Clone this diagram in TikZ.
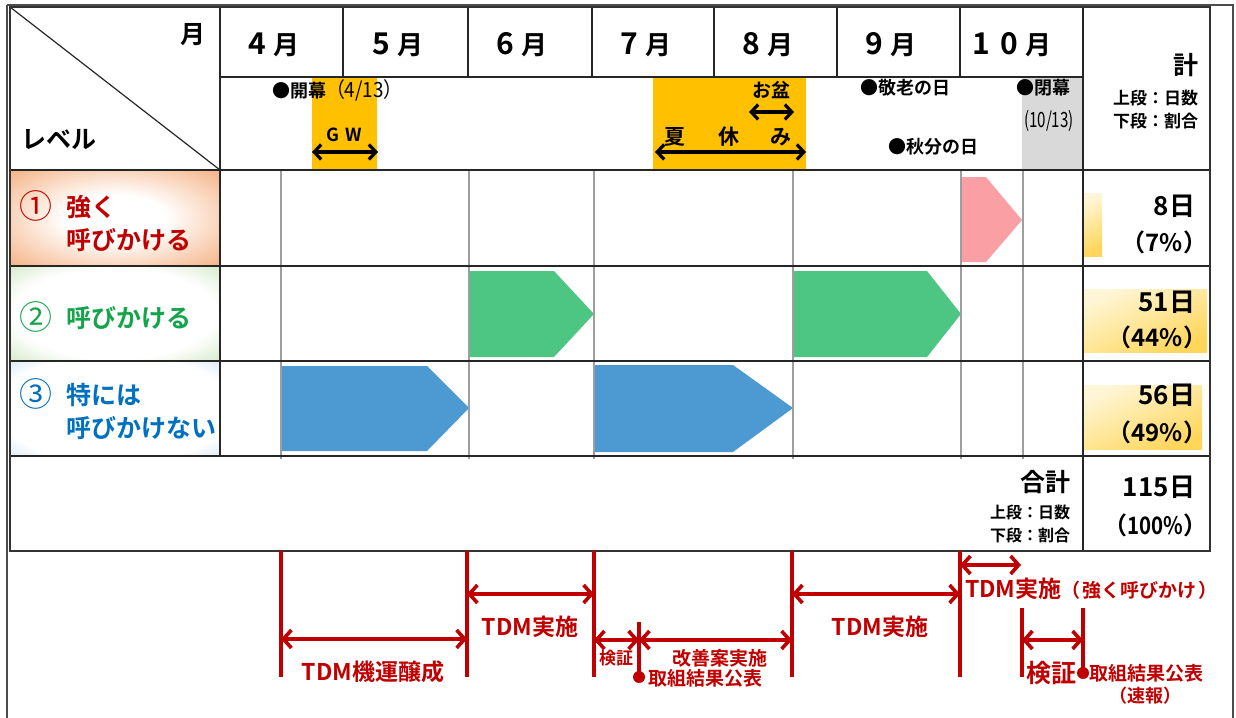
\documentclass[tikz,border=0pt]{standalone}
\usepackage{fontspec}
\setmainfont{Noto Sans CJK JP}[BoldFont={Noto Sans CJK JP Bold}]
\usetikzlibrary{arrows.meta}
\newcommand\myfs[1]{\fontsize{#1}{#1}\selectfont}
\definecolor{tdmred}{RGB}{192,0,0}
\definecolor{txtgreen}{RGB}{20,165,75}
\definecolor{txtblue}{RGB}{0,112,192}
\definecolor{gwfill}{RGB}{255,192,0}
\definecolor{closefill}{RGB}{217,217,217}
\definecolor{barpink}{RGB}{250,160,165}
\definecolor{bargreen}{RGB}{78,198,131}
\definecolor{barblue}{RGB}{77,153,210}
\definecolor{edgeO}{RGB}{244,170,120}
\definecolor{edgeG}{RGB}{165,208,140}
\definecolor{edgeB}{RGB}{150,192,232}
\definecolor{yelA}{RGB}{255,214,90}
\definecolor{yelB}{RGB}{255,246,215}
\pgfdeclareradialshading{lvlO}{\pgfpoint{0bp}{0bp}}{color(0bp)=(white); color(12bp)=(white); color(38bp)=(edgeO); color(72bp)=(edgeO)}
\pgfdeclareradialshading{lvlG}{\pgfpoint{0bp}{0bp}}{color(0bp)=(white); color(24bp)=(white); color(50bp)=(edgeG); color(72bp)=(edgeG)}
\pgfdeclareradialshading{lvlB}{\pgfpoint{0bp}{0bp}}{color(0bp)=(white); color(28bp)=(white); color(52bp)=(edgeB); color(72bp)=(edgeB)}
\begin{document}
\begin{tikzpicture}[x=1pt,y=-1pt,
  every node/.style={inner sep=0pt,outer sep=0pt,font=\bfseries},
  tblline/.style={draw=black!85,line width=1.2pt},
  thinline/.style={draw=black!38,line width=1.3pt},
  harrow/.style={draw=black,line width=3.6pt,{Straight Barb[length=7pt,width=15pt,line width=3.2pt]}-{Straight Barb[length=7pt,width=15pt,line width=3.2pt]}},
  rarrow/.style={draw=tdmred,line width=4.4pt,{Straight Barb[length=8pt,width=18pt,line width=3.6pt]}-{Straight Barb[length=8pt,width=18pt,line width=3.6pt]}},
  rtick/.style={draw=tdmred,line width=3.2pt},
  rdot/.style={fill=tdmred},
  rlab/.style={text=tdmred},
  yel/.style={top color=yelB,bottom color=yelA,shading angle=25},
]
\useasboundingbox (0,0) rectangle (1236,717);
% header backgrounds
\fill[gwfill] (312,77) rectangle (377,170);
\fill[gwfill] (653,77) rectangle (806,170);
\fill[closefill] (1022,77) rectangle (1083,170);
% level cell shading
\shade[shading=lvlO] (10,170) rectangle (220,266);
\shade[shading=lvlG] (10,266) rectangle (220,361);
\shade[shading=lvlB] (10,361) rectangle (220,456);
% total column highlights
\shade[yel] (1084,193) rectangle (1102,256);
\shade[yel] (1084,289) rectangle (1207,352);
\shade[yel] (1084,385) rectangle (1202,449);
% bars
\fill[barpink] (961,177) -- (986,177) -- (1022,220) -- (986,262) -- (961,262) -- cycle;
\fill[bargreen] (469,271) -- (554,271) -- (594,314) -- (554,357) -- (469,357) -- cycle;
\fill[bargreen] (794,271) -- (927,271) -- (961,314) -- (927,357) -- (794,357) -- cycle;
\fill[barblue] (281,366) -- (427,366) -- (469,408) -- (427,451) -- (281,451) -- cycle;
\fill[barblue] (594,365) -- (733,365) -- (793,408) -- (733,452) -- (594,452) -- cycle;
% thin grid
\foreach \gx in {281,469,594,793,961,1023} \draw[thinline] (\gx,170) -- (\gx,459);
% table lines
\draw[tblline] (10,7) -- (220,170);
\draw[tblline] (220,77) -- (1083,77);
\foreach \gy in {170,266,361,456} \draw[tblline] (10,\gy) -- (1210,\gy);
\draw[tblline] (220,7) -- (220,456);
\foreach \gx in {343,468,592,714,837,960} \draw[tblline] (\gx,7) -- (\gx,77);
\draw[tblline] (1083,7) -- (1083,551);
\draw[draw=black!80,line width=1.6pt] (10,7) rectangle (1210,551);
\draw[draw=black!70,line width=1.2pt] (7,5) -- (7,720);
\draw[draw=black!70,line width=1.2pt] (7,5) -- (1233,5) -- (1233,720);
% header texts
\node (hmon) at (193,35) {\myfs{25}月};
\node[anchor=west] (hlvl) at (21,140) {\myfs{25}レベル};
\node (m4) at (274,45) {\myfs{30}4\hspace{8pt}\myfs{26}月};
\node (m5) at (398,45) {\myfs{30}5\hspace{8pt}\myfs{26}月};
\node (m6) at (522,45) {\myfs{30}6\hspace{8pt}\myfs{26}月};
\node (m7) at (646,45) {\myfs{30}7\hspace{8pt}\myfs{26}月};
\node (m8) at (768,45) {\myfs{30}8\hspace{8pt}\myfs{26}月};
\node (m9) at (891,45) {\myfs{30}9\hspace{8pt}\myfs{26}月};
\node (m10) at (1012,45) {\myfs{30}1\hspace{10pt}0\hspace{8pt}\myfs{26}月};
\node[anchor=west] (open) at (272,90) {\myfs{18}●開幕\myfs{21}\mdseries\scalebox{0.9}[1]{（4/13）}};
\node (gw) at (344,135) {\myfs{18}G\hspace{6pt}W};
\coordinate (gwl) at (312,152); \coordinate (gwr) at (378,152);
\draw[harrow] (gwl) -- (gwr);
\node (obon) at (771,90) {\myfs{19}お盆};
\coordinate (obl) at (749,112); \coordinate (obr) at (794,112);
\draw[harrow] (obl) -- (obr);
\node (natsu) at (675,137) {\myfs{21}夏};
\node (yasu) at (729,137) {\myfs{21}休};
\node (mi) at (781,137) {\myfs{21}み};
\coordinate (sml) at (655,152); \coordinate (smr) at (806,152);
\draw[harrow] (sml) -- (smr);
\node[anchor=west] (keiro) at (860,88) {\myfs{18}●敬老の日};
\node[anchor=west] (shubun) at (888,147) {\myfs{18}●秋分の日};
\node[anchor=west] (close) at (1016,88) {\myfs{18}●閉幕};
\node (closed) at (1049,121) {\myfs{21}\mdseries\scalebox{0.72}[1]{(10/13)}};
\node[anchor=east] (kei) at (1198,65) {\myfs{25}計};
\node[anchor=east] (hj1) at (1198,98) {\myfs{17}上段：日数};
\node[anchor=east] (hj2) at (1198,121) {\myfs{17}下段：割合};
% level labels
\node[text=tdmred] (l1n) at (36,206) {\myfs{33}\mdseries ①};
\node[anchor=west,text=tdmred] (l1a) at (66,207) {\myfs{25}強く};
\node[anchor=west,text=tdmred] (l1b) at (66,240) {\myfs{25}呼びかける};
\node[text=txtgreen] (l2n) at (36,317) {\myfs{33}\mdseries ②};
\node[anchor=west,text=txtgreen] (l2a) at (66,318) {\myfs{25}呼びかける};
\node[text=txtblue] (l3n) at (36,394) {\myfs{33}\mdseries ③};
\node[anchor=west,text=txtblue] (l3a) at (66,395) {\myfs{25}特には};
\node[anchor=west,text=txtblue] (l3b) at (66,428) {\myfs{25}呼びかけない};
% totals
\node[anchor=east] (t1a) at (1195,206) {\myfs{26}8日};
\node[anchor=east] (t1b) at (1207,242) {\myfs{24}（7\%）};
\node[anchor=east] (t2a) at (1195,302) {\myfs{26}51日};
\node[anchor=east] (t2b) at (1207,337) {\myfs{24}（44\%）};
\node[anchor=east] (t3a) at (1195,395) {\myfs{26}56日};
\node[anchor=east] (t3b) at (1207,432) {\myfs{24}（49\%）};
\node[anchor=east] (t4a) at (1195,487) {\myfs{26}115日};
\node[anchor=east] (t4b) at (1207,525) {\myfs{24}（\scalebox{0.85}[1]{100\%}）};
\node[anchor=east] (gokei) at (1070,482) {\myfs{25}合計};
\node[anchor=east] (gj1) at (1070,512) {\myfs{16}上段：日数};
\node[anchor=east] (gj2) at (1070,535) {\myfs{16}下段：割合};
% bottom timeline
\coordinate (a1t) at (281,551); \coordinate (a1b) at (281,677);
\coordinate (a2t) at (467,551); \coordinate (a2b) at (467,677);
\coordinate (a3t) at (594,551); \coordinate (a3b) at (594,677);
\coordinate (a4t) at (639,622); \coordinate (a4b) at (639,677);
\coordinate (a5t) at (792,551); \coordinate (a5b) at (792,677);
\coordinate (a6t) at (960,551); \coordinate (a6b) at (960,677);
\coordinate (a7t) at (1022,608); \coordinate (a7b) at (1022,677);
\coordinate (a8t) at (1083,608); \coordinate (a8b) at (1083,673);
\foreach \k in {1,...,8} \draw[rtick] (a\k t) -- (a\k b);
\fill[rdot] (a4b) circle (6);
\fill[rdot] (a8b) circle (6);
\draw[rarrow] (281,639) -- (467,639);
\draw[rarrow] (467,594) -- (594,594);
\draw[rarrow] (594,640) -- (639,640);
\draw[rarrow] (639,640) -- (792,640);
\draw[rarrow] (792,594) -- (960,594);
\draw[rarrow] (960,565) -- (1021,565);
\draw[rarrow] (1022,640) -- (1083,640);
\node[rlab] (b1) at (373,672) {\myfs{23}TDM機運醸成};
\node[rlab] (b2) at (530,627) {\myfs{23}TDM実施};
\node[rlab] (b3) at (616,658) {\myfs{17}検証};
\node[rlab,anchor=east] (b4) at (767,658) {\myfs{19}改善案実施};
\node[rlab,anchor=west] (b5) at (648,678) {\myfs{19}取組結果公表};
\node[rlab] (b6) at (880,627) {\myfs{23}TDM実施};
\node[rlab,anchor=west] (b7) at (965,589) {\myfs{23}TDM実施\myfs{19}（\hspace{2pt}強く呼びかけ\hspace{2pt}）};
\node[rlab] (b8) at (1051,673) {\myfs{25}検証};
\node[rlab,anchor=west] (b9) at (1089,673) {\myfs{19}取組結果公表};
\node[rlab] (b10) at (1145,696) {\myfs{18}（速報）};
\end{tikzpicture}
\end{document}
